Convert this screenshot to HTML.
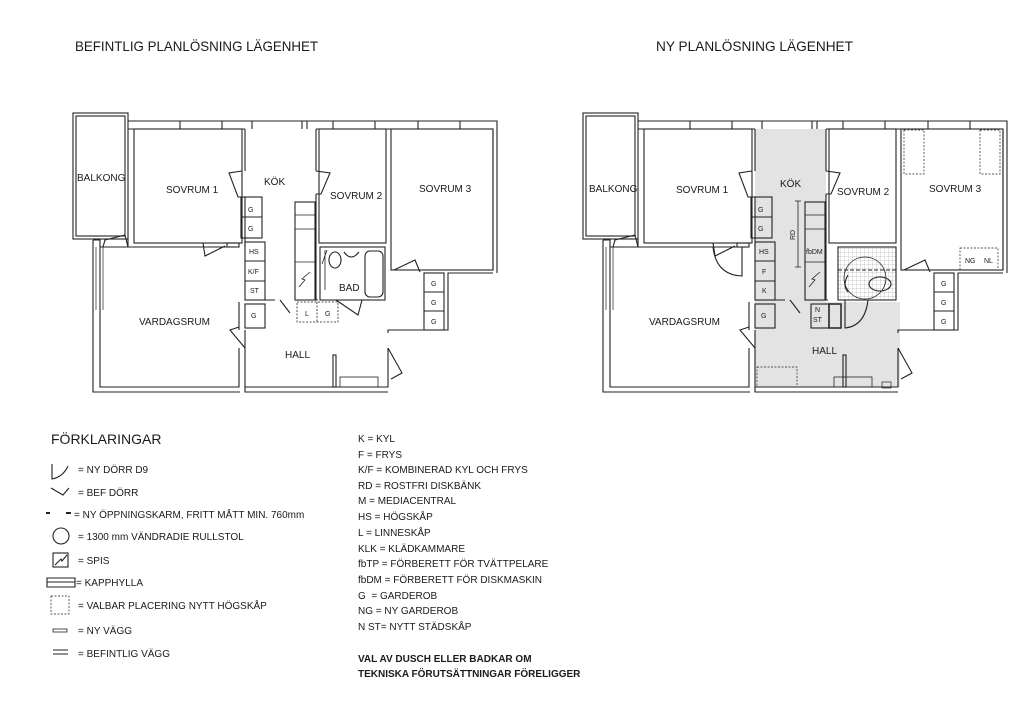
<!DOCTYPE html>
<html><head><meta charset="utf-8"><style>
html,body{margin:0;padding:0;background:#fff}
svg{display:block}
text{font-family:"Liberation Sans",sans-serif;fill:#1a1a1a}
</style></head><body>
<svg width="1020" height="718" viewBox="0 0 1020 718" xmlns="http://www.w3.org/2000/svg">
<defs>
<pattern id="tile" width="4" height="4" patternUnits="userSpaceOnUse"><path d="M0 0H4M0 0V4" stroke="#999" stroke-width="0.5" fill="none"/></pattern>
<g id="base" fill="none" stroke="#222" stroke-width="1.1">
  <!-- balkong -->
  <rect x="73" y="113" width="55" height="126"/>
  <rect x="76" y="116" width="49" height="120"/>
  <!-- top wall -->
  <path d="M128 121H497V273"/>
  <path d="M128 129H134M242 129H245M316 129H319M386 129H391M493 129V270"/>
  <path d="M180 121V129M222 121V129M252 121V129M302 121V129M307 121V129M333 121V129M375 121V129M418 121V129M460 121V129"/>
  <!-- rooms -->
  <rect x="134" y="129" width="108" height="114"/>
  <rect x="319" y="129" width="67" height="114"/>
  <rect x="391" y="129" width="102" height="141"/>
  <!-- kök walls -->
  <path d="M245 129V171M245 197V241M316 129V171M316 194V300"/>
  <!-- left outer of vardagsrum -->
  <path d="M100 247H228M245 247V241"/>
  <path d="M100 247V387H239V348M239 330V302M93 240V392H240"/>
  <path d="M96 247V310M103 247V310" stroke-width="0.7"/>
  <path d="M93 240H100V247M128 239V247"/>
  <!-- balkong door -->
  <path d="M103 247L105 240L125 235L128 247"/>
  <!-- sovrum1 door -->
  <path d="M203 243L205 256L225 246"/>
  <rect x="227" y="243" width="12" height="4"/>
  <!-- kök door wings -->
  <path d="M242 171L229 173L238 197L242 197M316 171L330 173L321 194L316 194"/>
  <!-- cabinets -->
  <rect x="241" y="197" width="21" height="41"/><path d="M241 217H262"/>
  <rect x="245" y="242" width="20" height="58"/><path d="M245 261H265M245 281H265"/>
  <rect x="245" y="304" width="20" height="24"/>
  <!-- counter -->
  <rect x="295" y="202" width="20" height="98"/>
  <path d="M295 262H315M295 229H315M295 215H315" stroke-width="0.8"/>
  <path d="M299 287L305 280L302 279L310 272" stroke-width="0.8"/>
  <!-- kitchen bottom -->
  <path d="M265 300H275M280 300L290 313M295 300H318"/>
  <!-- hall -->
  <path d="M245 330V387H388V348M388 333V330H448V273H493"/>
  <path d="M245 387V392H388V392" />
  <path d="M245 348L230 330L239 327M388 348L402 373L391 379"/>
  <rect x="333" y="355" width="3" height="32"/>
  <!-- sovrum3 door -->
  <path d="M394 270L415 260L420 272"/>
  <!-- wardrobes right -->
  <rect x="424" y="273" width="20" height="57"/><path d="M424 292H444M424 311H444"/>
</g>
</defs>

<text x="75" y="51" font-size="14" textLength="243" lengthAdjust="spacingAndGlyphs">BEFINTLIG PLANLÖSNING LÄGENHET</text>
<text x="656" y="51" font-size="14" textLength="197" lengthAdjust="spacingAndGlyphs">NY PLANLÖSNING LÄGENHET</text>

<!-- LEFT PLAN -->
<use href="#base"/>
<g fill="none" stroke="#222" stroke-width="1.1">
  <rect x="320" y="247" width="65" height="53"/>
  <rect x="365" y="251" width="18" height="46" rx="5"/>
  <ellipse cx="335" cy="260" rx="6" ry="8"/>
  <path d="M344 252Q351 262 359 252"/>
  <path d="M325 250V290M327 250L322 264" stroke-width="0.8"/>
  <path d="M325 300H331M336 300L358 315L362 300"/>
  <rect x="297" y="302" width="41" height="20" stroke-dasharray="2 1.5" stroke-width="0.8"/>
  <path d="M317 302V322" stroke-dasharray="2 1.5" stroke-width="0.8"/>
  <rect x="340" y="377" width="38" height="10" stroke-width="0.8"/>
</g>
<g font-size="10">
<text x="77" y="181">BALKONG</text>
<text x="166" y="193">SOVRUM 1</text>
<text x="264" y="185">KÖK</text>
<text x="330" y="199">SOVRUM 2</text>
<text x="419" y="192">SOVRUM 3</text>
<text x="339" y="291">BAD</text>
<text x="139" y="325">VARDAGSRUM</text>
<text x="285" y="358">HALL</text>
</g>
<g font-size="7">
<text x="248" y="212">G</text><text x="248" y="231">G</text>
<text x="249" y="254">HS</text><text x="248" y="274">K/F</text><text x="250" y="293">ST</text>
<text x="251" y="318">G</text><text x="305" y="316">L</text><text x="325" y="316">G</text>
<text x="431" y="286">G</text><text x="431" y="305">G</text><text x="431" y="324">G</text>
</g>

<!-- RIGHT PLAN -->
<path d="M755 129H826V302H900V387H755Z" fill="#e3e3e3"/>
<g transform="translate(510,0)"><use href="#base"/></g>
<g fill="none" stroke="#222" stroke-width="1.1">
  <rect x="838" y="247" width="58" height="53" fill="url(#tile)"/>
  <circle cx="865" cy="278" r="21" stroke-width="0.8"/>
  <path d="M838 270H896" stroke-dasharray="4 2"/>
  <ellipse cx="880" cy="284" rx="11" ry="7"/>
  <path d="M848 275Q842 285 848 292"/>
  <rect x="829" y="304" width="12" height="24" stroke-width="1.5"/>
  <rect x="811" y="304" width="18" height="24"/>
  <path d="M845 300V328Q865 326 868 300"/>
  <path d="M713 247Q716 275 742 276V247"/>
  <rect x="904" y="130" width="20" height="44" stroke-dasharray="2 1.5" stroke-width="0.7"/>
  <rect x="980" y="130" width="20" height="44" stroke-dasharray="2 1.5" stroke-width="0.7"/>
  <rect x="960" y="248" width="38" height="22" stroke-dasharray="2 1.5" stroke-width="0.7"/>
  <rect x="757" y="367" width="40" height="20" stroke-dasharray="2 1.5" stroke-width="0.7"/>
  <rect x="834" y="377" width="38" height="10" stroke-width="0.8"/>
  <rect x="882" y="382" width="9" height="6" stroke-width="0.7"/>
  <path d="M798 201V267M795 201H801M795 267H801" stroke-width="0.8"/>
</g>
<g font-size="10">
<text x="589" y="192">BALKONG</text>
<text x="676" y="193">SOVRUM 1</text>
<text x="780" y="187">KÖK</text>
<text x="837" y="195">SOVRUM 2</text>
<text x="929" y="192">SOVRUM 3</text>
<text x="649" y="325">VARDAGSRUM</text>
<text x="812" y="354">HALL</text>
</g>
<g font-size="7">
<text x="758" y="212">G</text><text x="758" y="231">G</text>
<text x="759" y="254">HS</text><text x="762" y="274">F</text><text x="762" y="293">K</text>
<text x="761" y="318">G</text>
<text x="815" y="312">N</text><text x="813" y="322">ST</text>
<text x="806" y="254">fbDM</text>
<text x="965" y="263">NG</text><text x="984" y="263">NL</text>
<text x="941" y="286">G</text><text x="941" y="305">G</text><text x="941" y="324">G</text>
<text x="795" y="240" transform="rotate(-90 795 240)">RD</text>
</g>

<!-- LEGEND -->
<text x="51" y="444" font-size="14">FÖRKLARINGAR</text>
<g fill="none" stroke="#222" stroke-width="1.1">
  <path d="M52 464V479Q63 477 68 466"/>
  <path d="M51 488L63 495L69 488"/>
  <path d="M46 513H50M66 513H71" stroke-width="2"/>
  <circle cx="61" cy="536" r="8"/>
  <rect x="53" y="553" width="15" height="14"/><path d="M55 565L61 559L62 561L67 555"/>
  <path d="M47 578H75V587H47Z M47 582H75"/>
  <rect x="51" y="596" width="18" height="18" stroke-dasharray="2 1.5" stroke-width="0.7"/>
  <rect x="53" y="629" width="14" height="3" stroke-width="0.8"/>
  <path d="M53 650H68M53 654H68"/>
</g>
<g font-size="10">
<text x="78" y="473">= NY DÖRR D9</text>
<text x="78" y="496">= BEF DÖRR</text>
<text x="74" y="518">= NY ÖPPNINGSKARM, FRITT MÅTT MIN. 760mm</text>
<text x="78" y="540">= 1300 mm VÄNDRADIE RULLSTOL</text>
<text x="78" y="564">= SPIS</text>
<text x="76" y="586">= KAPPHYLLA</text>
<text x="78" y="609">= VALBAR PLACERING NYTT HÖGSKÅP</text>
<text x="78" y="634">= NY VÄGG</text>
<text x="78" y="657">= BEFINTLIG VÄGG</text>

<text x="358" y="442">K = KYL</text>
<text x="358" y="458">F = FRYS</text>
<text x="358" y="473">K/F = KOMBINERAD KYL OCH FRYS</text>
<text x="358" y="489">RD = ROSTFRI DISKBÄNK</text>
<text x="358" y="504">M = MEDIACENTRAL</text>
<text x="358" y="520">HS = HÖGSKÅP</text>
<text x="358" y="536">L = LINNESKÅP</text>
<text x="358" y="552">KLK = KLÄDKAMMARE</text>
<text x="358" y="567">fbTP = FÖRBERETT FÖR TVÄTTPELARE</text>
<text x="358" y="583">fbDM = FÖRBERETT FÖR DISKMASKIN</text>
<text x="358" y="599">G &#160;= GARDEROB</text>
<text x="358" y="614">NG = NY GARDEROB</text>
<text x="358" y="630">N ST= NYTT STÄDSKÅP</text>
<text x="358" y="662" font-weight="bold">VAL AV DUSCH ELLER BADKAR OM</text>
<text x="358" y="677" font-weight="bold">TEKNISKA FÖRUTSÄTTNINGAR FÖRELIGGER</text>
</g>
</svg>
</body></html>
